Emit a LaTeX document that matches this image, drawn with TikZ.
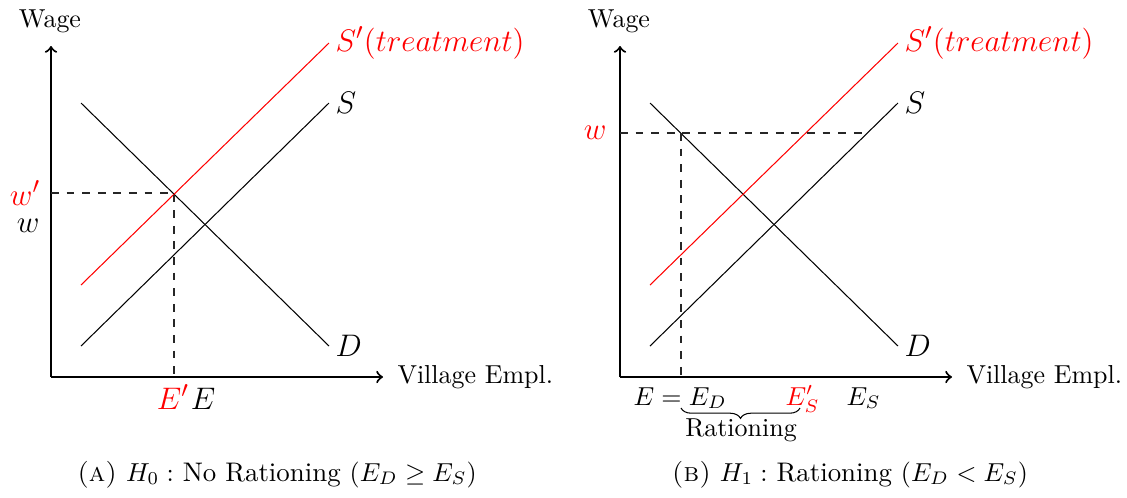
\documentclass[tikz,border=0pt]{standalone}
\usetikzlibrary{decorations.pathreplacing}
\begin{document}
\begin{tikzpicture}[x=0.385pt,y=-0.385pt,
  axis/.style={thick,->},
  curve/.style={line width=0.4pt},
  guide/.style={dashed,line width=0.4pt,black!85},
  lab/.style={inner sep=0pt,font=\fontsize{12.3}{14}\selectfont},
  txt/.style={inner sep=0pt},
  captxt/.style={inner sep=0pt,font=\fontsize{10.35}{12}\selectfont}]
\useasboundingbox (0,0) rectangle (1127,497);
% ---------- left panel ----------
\coordinate (LO) at (51,377);
\coordinate (LY) at (51,46);
\coordinate (LX) at (383,377);
\draw[axis] (LO) -- (LY);
\draw[axis] (LO) -- (LX);
\node[txt,anchor=base] (lwage) at (50,27) {Wage};
\node[txt,anchor=base west] (lvil) at (397,383) {Village Empl.};
\coordinate (LD1) at (81,103); \coordinate (LD2) at (329,346);
\coordinate (LS1) at (81,346); \coordinate (LS2) at (329,103);
\coordinate (LT1) at (81,285); \coordinate (LT2) at (329,43);
\draw[curve] (LD1) -- (LD2);
\draw[curve] (LS1) -- (LS2);
\draw[curve,red] (LT1) -- (LT2);
\node[lab,anchor=west] (lDl) at (335,346) {$D$};
\node[lab,anchor=west] (lSl) at (335,103) {$S$};
\node[lab,anchor=west,red] (lTl) at (335,43) {$S'(treatment)$};
\coordinate (Lwp) at (51,193);
\coordinate (Leq) at (174,193);
\coordinate (LEp) at (174,377);
\draw[guide] (Lwp) -- (Leq) -- (LEp);
\node[lab,anchor=east,red] (lwp) at (41,193) {$w'$};
\node[lab,anchor=east] (lw) at (40,226) {$w$};
\node[lab,anchor=base,red] (lEp) at (173,409) {$E'$};
\node[lab,anchor=base] (lE) at (203,409) {$E$};
\node[captxt,anchor=base] (lcap) at (277,481) {\textsc{(a)} $H_0:$ No Rationing $(E_D\geq E_S)$};
% ---------- right panel ----------
\coordinate (RO) at (620,377);
\coordinate (RY) at (620,46);
\coordinate (RX) at (952,377);
\draw[axis] (RO) -- (RY);
\draw[axis] (RO) -- (RX);
\node[txt,anchor=base] (rwage) at (619,27) {Wage};
\node[txt,anchor=base west] (rvil) at (966,383) {Village Empl.};
\coordinate (RD1) at (650,103); \coordinate (RD2) at (898,346);
\coordinate (RS1) at (650,346); \coordinate (RS2) at (898,103);
\coordinate (RT1) at (650,285); \coordinate (RT2) at (898,43);
\draw[curve] (RD1) -- (RD2);
\draw[curve] (RS1) -- (RS2);
\draw[curve,red] (RT1) -- (RT2);
\node[lab,anchor=west] (rDl) at (904,346) {$D$};
\node[lab,anchor=west] (rSl) at (904,103) {$S$};
\node[lab,anchor=west,red] (rTl) at (904,43) {$S'(treatment)$};
\coordinate (Rw) at (620,133);
\coordinate (Rwd) at (681,133);
\coordinate (Rws) at (864,133);
\coordinate (REd) at (681,377);
\draw[guide] (Rw) -- (Rws);
\draw[guide] (Rwd) -- (REd);
\node[lab,anchor=east,red] (rw) at (607,133) {$w$};
\node[txt,anchor=base west] (rEED) at (633,405) {$E = E_D$};
\node[txt,anchor=base west,red] (rESp) at (785,405) {$E'_S$};
\node[txt,anchor=base west] (rES) at (846,405) {$E_S$};
\coordinate (Bl) at (681,408);
\coordinate (Br) at (800,408);
\draw[decorate,decoration={brace,mirror,amplitude=4pt},line width=0.4pt] (Bl) -- (Br);
\node[txt,anchor=base] (rrat) at (741,436) {Rationing};
\node[captxt,anchor=base] (rcap) at (850,481) {\textsc{(b)} $H_1:$ Rationing $(E_D<E_S)$};
\end{tikzpicture}
\end{document}
